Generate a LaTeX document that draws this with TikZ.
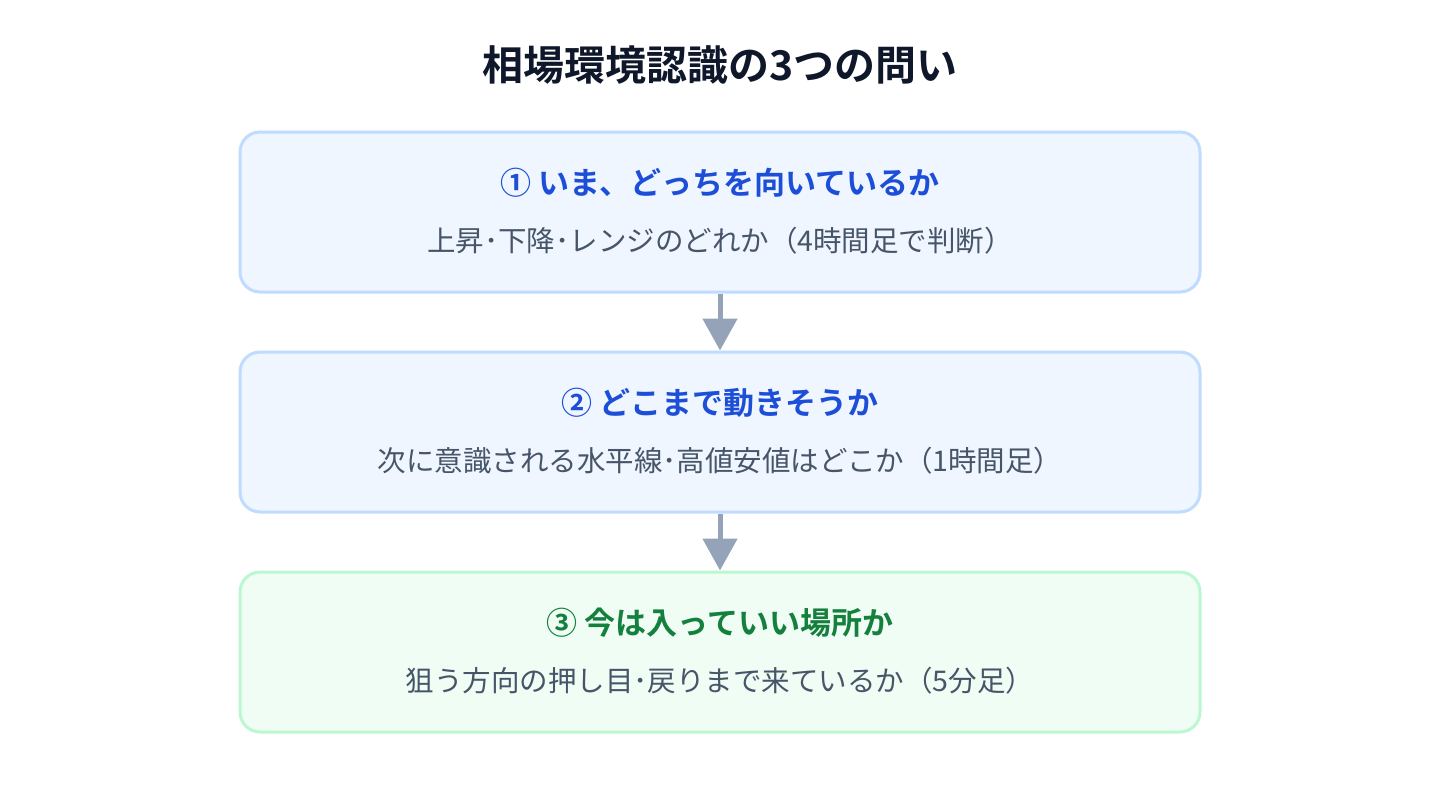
\documentclass[tikz,border=0pt]{standalone}
\usepackage{fontspec}
\setmainfont{Noto Sans CJK JP}
\newfontfamily\jpbold{Noto Sans CJK JP Bold}
\usetikzlibrary{arrows.meta}
\definecolor{ttl}{HTML}{0F172A}
\definecolor{bluefill}{HTML}{EFF6FF}
\definecolor{blueline}{HTML}{BFDBFE}
\definecolor{bluetext}{HTML}{1D4ED8}
\definecolor{greenfill}{HTML}{F0FDF4}
\definecolor{greenline}{HTML}{BBF7D0}
\definecolor{greentext}{HTML}{15803D}
\definecolor{subtext}{HTML}{475569}
\definecolor{arrowc}{HTML}{94A3B8}
\tikzset{
  box/.style={draw=blueline, fill=bluefill, line width=3pt, rounded corners=20pt, minimum width=960pt, minimum height=160pt, inner sep=0pt},
  gbox/.style={box, draw=greenline, fill=greenfill},
  head/.style={font=\jpbold\fontsize{31pt}{36pt}\selectfont, text=bluetext, anchor=center},
  ghead/.style={head, text=greentext},
  sub/.style={font=\fontsize{28.5pt}{33pt}\selectfont, text=subtext, anchor=center},
  flow/.style={draw=arrowc, line width=5pt, -{Triangle[length=32pt,width=34pt]}}
}
\begin{document}
\begin{tikzpicture}[x=1pt,y=-1pt]
\useasboundingbox (0,0) rectangle (1440,800);
\node[font=\jpbold\fontsize{41pt}{46pt}\selectfont, text=ttl] (title) at (720,65) {相場環境認識の3つの問い};
\node[box] (b1) at (720,212) {};
\node[head] (h1) at (720,183) {① いま、どっちを向いているか};
\node[sub] (s1) at (720,241) {上昇･下降･レンジのどれか（4時間足で判断）};
\node[box] (b2) at (720,432) {};
\node[head] (h2) at (720,403) {② どこまで動きそうか};
\node[sub] (s2) at (720,461) {次に意識される水平線･高値安値はどこか（1時間足）};
\node[gbox] (b3) at (720,652) {};
\node[ghead] (h3) at (720,623) {③ 今は入っていい場所か};
\node[sub] (s3) at (720,681) {狙う方向の押し目･戻りまで来ているか（5分足）};
\draw[flow] (b1.south) -- (b2.north);
\draw[flow] (b2.south) -- (b3.north);
\end{tikzpicture}
\end{document}
